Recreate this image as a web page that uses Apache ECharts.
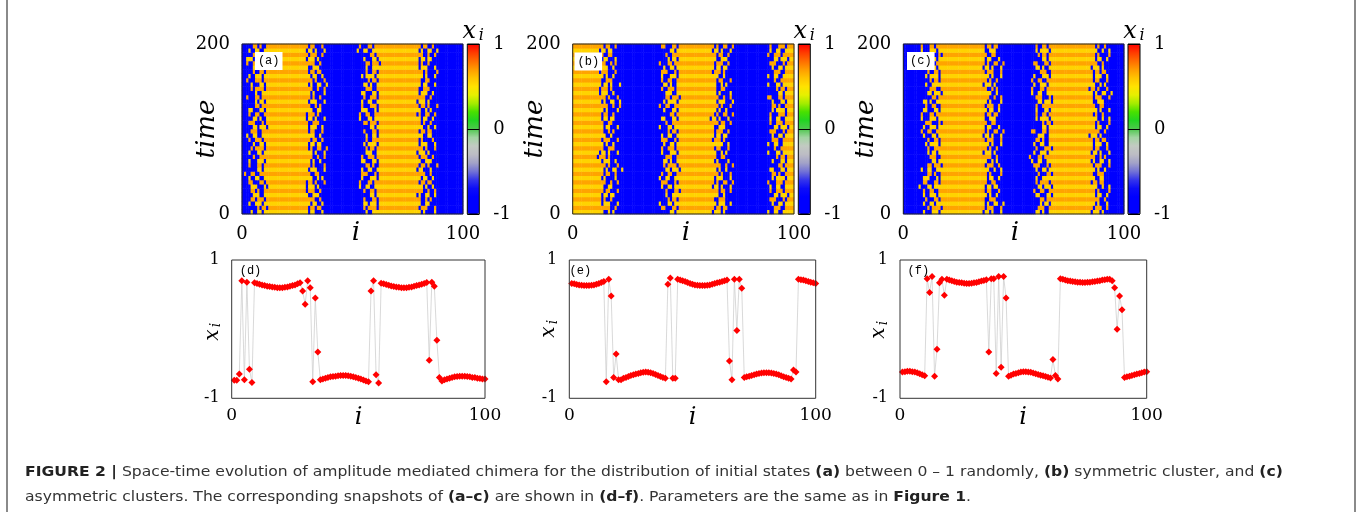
<!DOCTYPE html>
<html><head><meta charset="utf-8">
<script src="https://cdn.jsdelivr.net/npm/echarts@6.0.0/dist/echarts.min.js"></script>
<style>html,body{margin:0;padding:0;background:#fff}#c{width:1362px;height:515px}</style>
</head><body><div id="c"></div>
<script>
// ---------------- DATA ----------------
// Heatmap rows (time bins of 5, bottom row = time 0), 100 sites each.
// 'b' = low (blue) state, 'h' = high state. Tokens: "<n>b"/"<n>h" = run of n cells,
// "L<k>" / "R<k>" = one of the hand-drawn 10-site boundary textures below.
const leftEdges = {
 1:'bbhbbhhbhh', 2:'bhhbbbhhbh', 3:'bbbhhbhhhb', 4:'bhbbbhhhbh', 5:'bbbbhbhhbh', 6:'hbbhhbbhhh',
 7:'bbhhbhbbhh', 8:'bbbhbbhhhh', 9:'bhbbhhhbhh', 10:'bbbbbhhbhh', 11:'bhhhbbbhbh', 12:'bbhbhhhhbh',
 13:'hbbbhhbhhh', 14:'bbbhhhbbhh', 15:'bbhbbbhhbh', 16:'bhbbhhbbhh'
};
const rightEdges = {
 1:'hhbhhbbhbb', 2:'hbhhhbbbhb', 3:'bhhhbhbbbb', 4:'hbhhbbbhbb', 5:'hhhbbhbbhb', 6:'hbbhhhbbbb',
 7:'hhbbhbhbbb', 8:'hhhbhbbbhb', 9:'hbhhbhhbbb', 10:'bhhbhbbbhb', 11:'hhbhbbbbhb', 12:'hhhhbbhbbb',
 13:'hbhbbhhbbh', 14:'hhbbhhbbbb', 15:'hbhhhbbhbb', 16:'hhbhbbhbbb'
};
const heatRowsA = [
"2b L1 17h R4 14b L8 16h R11 11b", "3b L5 16h R9 14b L12 16h R2 11b",
"2b L9 17h R1 13b L3 17h R14 11b", "1b L3 18h R12 14b L15 16h R7 11b",
"2b L14 17h R6 14b L10 15h R13 12b", "2b L7 16h R15 15b L1 16h R5 11b",
"3b L11 16h R3 14b L6 17h R16 10b", "2b L2 17h R10 14b L13 16h R9 11b",
"2b L16 18h R7 13b L4 16h R1 11b", "1b L6 18h R14 14b L11 16h R12 11b",
"2b L10 17h R2 14b L16 15h R4 12b", "3b L13 16h R11 15b L7 16h R10 10b",
"2b L4 17h R16 14b L2 17h R6 10b", "2b L8 17h R5 14b L9 16h R15 11b",
"1b L15 18h R8 14b L14 16h R3 11b", "2b L12 17h R13 13b L5 17h R8 11b",
"3b L1 16h R9 14b L12 16h R2 11b", "2b L9 17h R1 14b L8 15h R11 12b",
"2b L6 17h R12 15b L1 16h R14 10b", "1b L14 18h R4 14b L15 16h R9 11b",
"2b L3 17h R15 14b L10 16h R5 11b", "2b L11 17h R6 13b L3 17h R16 11b",
"3b L7 16h R10 14b L13 16h R1 11b", "2b L16 17h R3 14b L6 15h R13 12b",
"2b L2 18h R14 13b L11 16h R7 11b", "1b L10 18h R7 14b L4 17h R10 10b",
"2b L5 17h R2 14b L16 16h R3 11b", "2b L13 17h R16 15b L9 15h R12 11b",
"3b L8 16h R11 14b L2 16h R15 11b", "2b L12 17h R5 14b L14 16h R6 11b",
"2b L15 17h R13 14b L7 17h R4 10b", "1b L4 18h R8 14b L5 16h R14 11b",
"2b L9 17h R1 13b L12 17h R8 11b", "3b L1 16h R9 15b L1 16h R11 10b",
"2b L14 17h R6 14b L8 16h R2 11b", "2b L6 17h R12 14b L3 15h R16 12b",
"1b L11 18h R3 14b L15 16h R9 11b", "2b L3 17h R15 14b L10 16h R5 11b",
"2b L16 17h R10 13b L6 17h R13 11b", "3b L7 16h R4 14b L13 16h R1 11b"
];
const heatRowsB = [
"12h R7 17b L10 14h R3 15b L6 2h", "13h R12 16b L2 14h R9 15b L14 2h",
"12h R2 17b L13 15h R15 14b L1 2h", "11h R16 18b L5 14h R6 15b L11 2h",
"12h R9 17b L8 13h R12 16b L3 2h", "13h R4 17b L15 14h R1 14b L9 2h",
"12h R14 16b L1 15h R10 15b L16 2h", "12h R5 17b L11 14h R13 14b L4 3h",
"11h R11 18b L6 14h R2 15b L12 2h", "12h R1 17b L16 14h R8 15b L7 2h",
"13h R13 16b L3 14h R16 15b L2 2h", "12h R8 17b L12 15h R5 14b L10 2h",
"12h R15 17b L7 13h R11 16b L15 2h", "11h R3 18b L14 14h R14 15b L5 2h",
"12h R10 17b L4 14h R7 15b L13 2h", "13h R6 16b L9 14h R4 15b L8 2h",
"12h R16 17b L1 15h R12 14b L6 2h", "12h R2 17b L11 14h R3 14b L14 3h",
"11h R12 18b L16 14h R9 15b L1 2h", "12h R7 17b L5 14h R15 15b L11 2h",
"13h R4 16b L13 14h R6 15b L3 2h", "12h R14 17b L8 15h R1 14b L9 2h",
"12h R9 17b L2 13h R10 16b L16 2h", "11h R1 18b L10 14h R13 15b L4 2h",
"12h R11 17b L15 14h R16 15b L12 2h", "13h R5 16b L6 14h R8 15b L7 2h",
"12h R13 17b L12 15h R2 14b L15 2h", "12h R8 17b L3 14h R5 14b L2 3h",
"11h R15 18b L14 14h R11 15b L10 2h", "12h R3 17b L9 14h R14 15b L5 2h",
"13h R10 16b L7 14h R7 15b L13 2h", "12h R6 17b L16 15h R4 14b L8 2h",
"12h R16 17b L4 13h R12 16b L6 2h", "11h R2 18b L11 14h R3 15b L14 2h",
"12h R12 17b L1 14h R9 15b L1 2h", "13h R7 16b L13 14h R15 15b L11 2h",
"12h R4 17b L5 15h R6 14b L3 2h", "12h R14 17b L8 14h R1 14b L9 3h",
"11h R9 18b L10 14h R10 15b L16 2h", "12h R1 17b L2 14h R13 15b L4 2h"
];
const heatRowsC = [
"8b L4 18h R10 12b L7 17h R3 5b", "9b L12 17h R2 12b L14 17h R15 5b",
"7b L1 19h R13 12b L5 16h R8 6b", "8b L15 18h R6 11b L10 18h R12 5b",
"8b L9 18h R16 13b L2 16h R1 5b", "9b L6 17h R4 12b L16 17h R11 5b",
"7b L13 19h R9 12b L3 17h R5 5b", "8b L2 18h R14 12b L12 16h R9 6b",
"8b L11 18h R1 11b L8 18h R14 5b", "9b L7 17h R11 13b L15 16h R6 5b",
"7b L16 19h R5 12b L1 17h R16 5b", "8b L3 18h R15 12b L11 17h R2 5b",
"8b L10 18h R7 12b L6 16h R13 6b", "9b L14 17h R12 11b L13 18h R7 5b",
"7b L5 19h R3 12b L9 17h R10 5b", "8b L8 18h R16 13b L4 16h R4 5b",
"8b L12 18h R8 12b L16 17h R15 5b", "9b L1 17h R2 12b L7 17h R9 5b",
"7b L15 19h R10 12b L14 16h R3 6b", "8b L6 18h R13 11b L2 18h R12 5b",
"8b L9 18h R4 12b L10 17h R1 5b", "9b L11 17h R14 13b L5 16h R11 5b",
"7b L4 19h R6 12b L12 17h R5 5b", "8b L13 18h R9 12b L1 16h R16 6b",
"8b L2 18h R1 12b L15 17h R8 5b", "9b L16 17h R15 11b L8 18h R14 5b",
"7b L7 19h R11 12b L3 17h R6 5b", "8b L10 18h R5 13b L11 16h R2 5b",
"8b L3 18h R12 12b L6 17h R13 5b", "9b L14 17h R7 12b L13 16h R10 6b",
"7b L8 19h R3 12b L9 17h R7 5b", "8b L5 18h R16 11b L16 18h R4 5b",
"8b L12 18h R8 12b L4 17h R15 5b", "9b L1 17h R2 13b L14 16h R9 5b",
"7b L15 19h R10 12b L7 17h R3 5b", "8b L6 18h R13 12b L2 16h R12 6b",
"8b L9 18h R4 12b L10 17h R1 5b", "9b L11 17h R14 11b L5 18h R11 5b",
"7b L4 19h R6 12b L12 17h R5 5b", "8b L13 18h R9 12b L1 17h R16 5b"
];
// level of the high state in each time bin (alternating yellow / orange stripes)
const stripeLevels = [
0.55,0.68,0.55,0.68,0.55,0.68,0.55,0.68,0.55,0.68,
0.55,0.68,0.55,0.68,0.55,0.68,0.55,0.68,0.55,0.68,
0.55,0.68,0.55,0.68,0.55,0.68,0.55,0.68,0.55,0.68,
0.55,0.68,0.55,0.68,0.55,0.68,0.55,0.68,0.55,0.68
];
const blueLevel = -0.8;

// snapshots x_i for sites i = 1..100
const snapD = [
-0.74,-0.74,-0.65,0.70,-0.73,0.68,-0.58,-0.77,
0.67,0.66,0.65,0.64,0.63,0.62,0.615,0.61,0.605,0.60,0.60,0.60,0.605,0.61,0.62,0.63,0.64,0.655,0.67,
0.55,0.36,0.70,0.60,-0.76,0.45,-0.33,
-0.73,-0.72,-0.71,-0.70,-0.69,-0.685,-0.68,-0.675,-0.67,-0.67,-0.67,-0.675,-0.68,-0.69,-0.70,-0.71,-0.72,-0.735,-0.75,-0.76,
0.55,0.70,-0.66,-0.78,
0.665,0.655,0.645,0.635,0.625,0.615,0.61,0.605,0.60,0.60,0.60,0.605,0.61,0.62,0.63,0.64,0.65,0.66,0.675,
-0.45,0.68,0.62,-0.16,-0.70,
-0.75,-0.73,-0.72,-0.71,-0.70,-0.69,-0.685,-0.68,-0.68,-0.68,-0.685,-0.69,-0.70,-0.70,-0.71,-0.715,-0.72,-0.72
];
const snapE = [
0.66,0.655,0.645,0.64,0.635,0.63,0.63,0.63,0.635,0.64,0.65,0.66,0.675,0.69,
-0.76,0.72,0.48,-0.70,-0.36,-0.73,
-0.73,-0.71,-0.70,-0.685,-0.67,-0.66,-0.65,-0.64,-0.63,-0.625,-0.62,-0.625,-0.63,-0.64,-0.655,-0.67,-0.685,-0.70,-0.71,
0.65,0.74,-0.71,-0.71,
0.72,0.71,0.70,0.69,0.675,0.66,0.65,0.64,0.635,0.63,0.63,0.63,0.635,0.64,0.65,0.66,0.67,0.68,0.69,0.70,0.71,
-0.46,-0.73,0.72,-0.02,0.72,0.59,
-0.70,-0.69,-0.68,-0.67,-0.66,-0.65,-0.64,-0.635,-0.63,-0.63,-0.63,-0.635,-0.64,-0.65,-0.66,-0.675,-0.69,-0.70,-0.71,-0.72,
-0.59,-0.62,
0.72,0.715,0.71,0.70,0.69,0.68,0.67,0.66
];
const snapF = [
-0.62,-0.615,-0.61,-0.61,-0.615,-0.62,-0.63,-0.645,-0.66,-0.675,
0.73,0.53,0.76,-0.68,-0.29,0.67,0.72,0.49,
0.72,0.71,0.70,0.69,0.68,0.675,0.67,0.665,0.66,0.66,0.665,0.67,0.675,0.685,0.695,0.705,0.715,
-0.33,0.73,0.73,-0.64,0.76,-0.55,0.76,0.45,
-0.68,-0.665,-0.65,-0.64,-0.63,-0.62,-0.615,-0.615,-0.62,-0.625,-0.635,-0.645,-0.655,-0.665,-0.675,-0.685,-0.695,-0.705,
-0.44,-0.67,-0.72,
0.73,0.72,0.71,0.70,0.695,0.69,0.685,0.68,0.68,0.675,0.675,0.68,0.68,0.685,0.69,0.695,0.70,0.71,0.715,0.72,0.72,
0.70,0.60,0.0,0.48,0.28,
-0.70,-0.69,-0.68,-0.67,-0.66,-0.65,-0.64,-0.63,-0.62,-0.615
];

const heatXTicks = [0, 100];
const heatYTicks = [0, 200];
const cbTicks = [-1, 0, 1];
const snapYTicks = [-1, 1];
const heatLabels = ['(a)', '(b)', '(c)'];
const snapLabels = ['(d)', '(e)', '(f)'];
const colorStops = [
'#0000ff','#0000ff','#0000ff','#0c0cf8','#3434ec','#7272d6','#a2a2c8','#bcbcc4','#c2cac2','#a2d4a2',
'#4ec84e','#22d422','#48e000','#a4ec00','#e6f000','#ffe200','#ffc400','#ff9c00','#ff6c00','#ff3a00','#ff0000'
];
const captionLine1 = '{b|FIGURE 2 |} Space-time evolution of amplitude mediated chimera for the distribution of initial states {b|(a)} between 0 \u2013 1 randomly, {b|(b)} symmetric cluster, and {b|(c)}';
const captionLine2 = 'asymmetric clusters. The corresponding snapshots of {b|(a\u2013c)} are shown in {b|(d\u2013f)}. Parameters are the same as in {b|Figure 1}.';

// ---------------- LAYOUT ----------------
const heatLayout = [
  {left:242, top:44, width:221, height:170, bar:467.3, label:[268.7,61], iPos:[356,233], timePos:[207,129], cb:473.3},
  {left:572.7, top:44, width:221.3, height:170, bar:798.3, label:[588.3,61.5], iPos:[686,233], timePos:[535,129], cb:804.3},
  {left:903.3, top:44, width:220.7, height:170, bar:1128, label:[920.8,61], iPos:[1015,233], timePos:[866,129], cb:1134}
];
const snapLayout = [
  {left:231.7, top:260, width:253.3, height:138.3, label:[250.5,270.5], iPos:[358.5,418], xiPos:[212.5,331]},
  {left:569.3, top:260, width:246.4, height:138.3, label:[580.3,270.5], iPos:[692.5,418], xiPos:[549,328]},
  {left:900, top:260, width:246.7, height:138.3, label:[918.3,270.5], iPos:[1023,418], xiPos:[879,329]}
];

function decodeRow(str) {
  let out = '';
  str.trim().split(/\s+/).forEach(tok => {
    let m = tok.match(/^(\d+)([a-z])$/);
    if (m) { out += m[2].repeat(+m[1]); return; }
    m = tok.match(/^([LR])(\d+)$/);
    if (m) { out += (m[1] === 'L' ? leftEdges : rightEdges)[+m[2]]; return; }
    out += tok;
  });
  return out.padEnd(100, 'b').slice(0, 100);
}
function heatData(rows) {
  const d = [];
  rows.forEach((s, r) => {
    const row = decodeRow(s);
    for (let c = 0; c < 100; c++) d.push([c, r, row[c] === 'h' ? stripeLevels[r] : blueLevel]);
  });
  return d;
}

const xCats = Array.from({length:100}, (_, k) => String(k));
const yCats = stripeLevels.map((_, k) => String(k));
const serif = 'DejaVu Serif';

const grids = [], xAxes = [], yAxes = [], series = [], visualMaps = [], graphics = [];
function T(x, y, text, font, extra) {
  return Object.assign({type:'text', x, y, z:100, style:Object.assign({text, font, fill:'#000',
    align:'center', verticalAlign:'middle', textAlign:'center', textVerticalAlign:'middle'}, extra && extra.style || {})}, extra && extra.el || {});
}

[heatRowsA, heatRowsB, heatRowsC].forEach((rows, k) => {
  const L = heatLayout[k];
  const g = grids.length;
  grids.push({left:L.left, top:L.top, width:L.width, height:L.height, show:true, borderColor:'#222', borderWidth:1, backgroundColor:'transparent', z:5});
  const xc = xAxes.length;
  xAxes.push({type:'category', gridIndex:g, data:xCats, show:false, position:'top'});
  xAxes.push({type:'value', gridIndex:g, min:heatXTicks[0], max:heatXTicks[1], interval:heatXTicks[1]-heatXTicks[0], position:'bottom',
    axisLine:{show:false}, axisTick:{show:false}, splitLine:{show:false},
    axisLabel:{margin:11, fontFamily:serif, fontSize:18, color:'#000'}});
  const yc = yAxes.length;
  yAxes.push({type:'category', gridIndex:g, data:yCats, show:false, position:'right'});
  yAxes.push({type:'value', gridIndex:g, min:heatYTicks[0], max:heatYTicks[1], interval:heatYTicks[1]-heatYTicks[0], position:'left',
    axisLine:{show:false}, axisTick:{show:false}, splitLine:{show:false},
    axisLabel:{margin:12, fontFamily:serif, fontSize:18, color:'#000'}});
  const sIdx = series.length;
  series.push({type:'heatmap', xAxisIndex:xc, yAxisIndex:yc, data:heatData(rows), progressive:0, itemStyle:{borderWidth:0}, emphasis:{disabled:true}});
  // colorbar
  const gc = grids.length;
  grids.push({left:L.bar, top:L.top, width:12, height:L.height, show:true, borderColor:'#000', borderWidth:1, backgroundColor:'transparent', z:6});
  xAxes.push({type:'value', gridIndex:gc, show:false});
  yAxes.push({type:'value', gridIndex:gc, min:cbTicks[0], max:cbTicks[2], interval:1, position:'right', z:7,
    axisLine:{show:false}, axisTick:{show:false}, splitLine:{show:true, lineStyle:{color:'#000', width:1}},
    axisLabel:{margin:14, fontFamily:serif, fontSize:18, color:'#000'}});
  visualMaps.push({type:'continuous', seriesIndex:sIdx, min:-1, max:1, calculable:false, hoverLink:false,
    inRange:{color:colorStops}, left:L.bar, top:L.top, itemWidth:12, itemHeight:L.height, padding:0, z:1, orient:'vertical'});
  // texts
  graphics.push(T(L.label[0], L.label[1], heatLabels[k], '12px "Liberation Mono"', {style:{backgroundColor:'#fff', padding:[3,3,3,3]}}));
  graphics.push(T(L.iPos[0], L.iPos[1], 'i', 'italic 26px "DejaVu Serif"'));
  graphics.push(T(L.timePos[0], L.timePos[1], 'time', 'italic 26px "DejaVu Serif"', {el:{rotation:Math.PI/2}}));
  graphics.push(T(L.cb - 4, 32, 'x', 'italic 24px "DejaVu Serif"'));
  graphics.push(T(L.cb + 8, 36, 'i', 'italic 16px "DejaVu Serif"'));
});

[snapD, snapE, snapF].forEach((vals, k) => {
  const L = snapLayout[k];
  const g = grids.length;
  grids.push({left:L.left, top:L.top, width:L.width, height:L.height, show:true, borderColor:'#333', borderWidth:1, backgroundColor:'transparent', z:5});
  const xi = xAxes.length;
  xAxes.push({type:'value', gridIndex:g, min:heatXTicks[0], max:heatXTicks[1], interval:100,
    axisLine:{show:false}, axisTick:{show:false}, splitLine:{show:false},
    axisLabel:{margin:9, fontFamily:serif, fontSize:17, color:'#000'}});
  const yi = yAxes.length;
  yAxes.push({type:'value', gridIndex:g, min:snapYTicks[0], max:snapYTicks[1], interval:2,
    axisLine:{show:false}, axisTick:{show:false}, splitLine:{show:false},
    axisLabel:{margin:12, fontFamily:serif, fontSize:16, color:'#000'}});
  series.push({type:'line', xAxisIndex:xi, yAxisIndex:yi, data:vals.map((v, j) => [j + 1, v]),
    symbol:'diamond', symbolSize:7, showSymbol:true, showAllSymbol:true,
    itemStyle:{color:'#ff0000'}, lineStyle:{color:'#cfcfcf', width:0.8}, emphasis:{disabled:true}, z:3});
  graphics.push(T(L.label[0], L.label[1], snapLabels[k], '12px "Liberation Mono"'));
  graphics.push(T(L.iPos[0], L.iPos[1], 'i', 'italic 24px "DejaVu Serif"'));
  graphics.push({type:'group', x:L.xiPos[0], y:L.xiPos[1], rotation:Math.PI/2, z:100, children:[
    T(-4, 0, 'x', 'italic 20px "DejaVu Serif"'),
    T(6, 4, 'i', 'italic 14px "DejaVu Serif"')
  ]});
});

// frame + caption
graphics.push({type:'line', z:100, shape:{x1:7, y1:0, x2:7, y2:512}, style:{stroke:'#8a8a8a', lineWidth:2}});
graphics.push({type:'line', z:100, shape:{x1:1355, y1:0, x2:1355, y2:512}, style:{stroke:'#8a8a8a', lineWidth:2}});
const capRich = {b:{fontWeight:'bold', fontFamily:'DejaVu Sans', fontSize:14, fill:'#222'}};
graphics.push({type:'text', x:25, y:472.5, scaleX:1.114, z:100, style:{text:captionLine1, font:'14px "DejaVu Sans"', fill:'#333',
  align:'left', verticalAlign:'middle', textAlign:'left', textVerticalAlign:'middle', rich:capRich}});
graphics.push({type:'text', x:25, y:497, scaleX:1.114, z:100, style:{text:captionLine2, font:'14px "DejaVu Sans"', fill:'#333',
  align:'left', verticalAlign:'middle', textAlign:'left', textVerticalAlign:'middle', rich:capRich}});

const chart = echarts.init(document.getElementById('c'), null, {renderer:'canvas'});
chart.setOption({
  animation:false,
  backgroundColor:'#fff',
  grid:grids, xAxis:xAxes, yAxis:yAxes, visualMap:visualMaps, series:series,
  graphic:{elements:graphics}
});
</script>
</body></html>
